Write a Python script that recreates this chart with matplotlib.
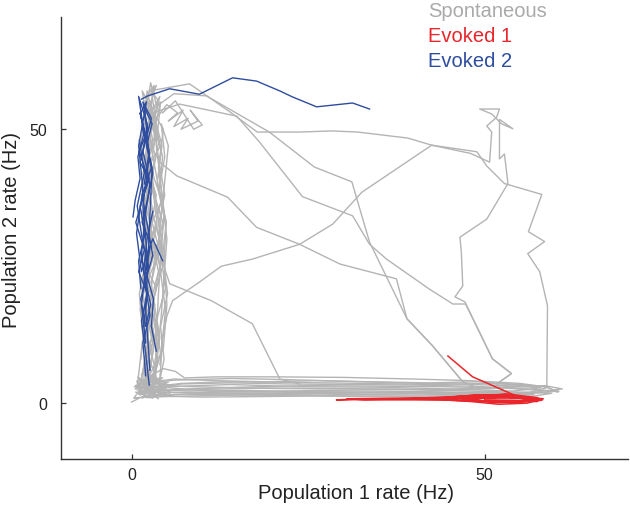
import matplotlib
matplotlib.use("Agg")
import matplotlib.pyplot as plt

C_SPONT = "#b4b4b4"
C_EV1 = "#e8262c"
C_EV2 = "#2e4d9f"

# spontaneous: long excursions between the two states (Hz)
exc1_x = [2.5, 8.2, 13.9, 17.8, 23.8, 28.3, 32.0, 39.1, 42.5, 48.9, 50.3, 52.8, 58.1, 56.2, 58.5, 56.1, 57.8, 58.9, 58.8, 60.3]
exc1_y = [57.0, 58.3, 53.2, 49.5, 49.5, 49.7, 49.5, 48.4, 47.1, 45.9, 43.3, 40.1, 38.1, 31.3, 29.5, 27.3, 24.0, 17.8, 3.0, 2.0]
exc2_x = [4.0, 4.4, 5.0, 5.8, 9.6, 12.7, 17.1, 23.8, 28.5, 32.6, 42.5, 48.0, 50.7, 51.0, 50.3, 51.7, 52.1, 49.3, 51.0,
          52.4, 54.0, 52.1, 52.1, 52.8, 53.3, 50.3, 46.5, 46.7, 46.9, 45.8, 47.2, 51.1, 53.8, 51.7]
exc2_y = [4.4, 11.8, 15.9, 18.7, 22.1, 25.0, 26.3, 29.0, 32.7, 38.5, 47.1, 45.6, 44.0, 49.5, 50.6, 52.2, 53.7, 53.7, 52.8,
          51.0, 50.1, 51.8, 44.6, 45.5, 40.1, 33.6, 30.3, 27.6, 21.4, 19.4, 18.5, 8.1, 5.4, 3.5]
exc3_x = [2.8, 6.0, 10.6, 19.5, 25.9, 31.2, 33.7, 39.0, 42.6, 46.9, 49.3]
exc3_y = [53.5, 56.5, 56.1, 49.5, 43.1, 40.4, 29.4, 15.4, 10.5, 3.9, 2.6]
exc4_x = [3.0, 6.8, 14.9, 18.1, 24.2, 31.3, 33.7, 36.1, 42.2, 45.5, 47.3, 51.1, 53.8, 51.7, 52.8]
exc4_y = [53.0, 54.6, 52.4, 47.7, 37.7, 34.2, 29.0, 26.3, 20.8, 18.1, 18.1, 8.1, 5.4, 3.5, 2.1]
exc5_x = [4.0, 6.4, 13.6, 17.7, 23.8, 29.5, 37.5, 39.0, 42.6, 46.9, 48.5]
exc5_y = [44.0, 41.5, 37.6, 32.1, 29.0, 25.4, 22.7, 15.4, 10.5, 3.9, 3.0]
exc6_x = [4.2, 4.7, 5.4, 11.3, 17.1, 21.0, 23.8]
exc6_y = [30.0, 24.5, 21.8, 18.7, 14.5, 4.4, 3.5]
squig_x = [3.5, 5.0, 6.5, 5.2, 7.3, 6.0, 8.0, 7.0, 9.4, 8.3, 10.0, 8.8, 6.2, 4.4]
squig_y = [52.0, 54.5, 53.0, 51.5, 53.5, 50.5, 52.0, 50.0, 51.5, 53.5, 50.8, 50.0, 55.2, 53.0]

# spontaneous: population-2-up state (vertical bundle)
vert_a_x = [1.2, 2.0, 1.5, 2.6, 1.8, 3.0, 2.2, 1.6, 2.8, 2.0, 3.2, 2.4, 1.9, 3.5, 2.6, 4.0, 3.0, 2.2, 3.4, 2.0]
vert_a_y = [2.5, 9, 16, 22, 29, 35, 41, 46, 52, 56, 58, 51, 44, 38, 31, 25, 18, 12, 6, 3]
vert_b_x = [2.0, 3.1, 2.4, 3.8, 2.9, 4.2, 3.3, 2.5, 3.9, 2.8, 3.6, 2.3, 3.0, 4.4, 3.2, 2.6, 3.7, 2.9]
vert_b_y = [3.5, 10, 17, 24, 30, 37, 43, 49, 55, 57, 50, 45, 39, 33, 26, 19, 11, 4]
vert_c_x = [0.8, 1.6, 1.1, 2.2, 1.4, 2.6, 1.2, 2.0, 1.5, 2.7, 3.3, 2.4, 1.8, 2.9, 1.3, 2.5, 1.9]
vert_c_y = [3, 12, 20, 27, 34, 40, 47, 53, 57, 54, 48, 41, 34, 26, 18, 9, 2]
vert_d_x = [3.0, 4.1, 3.5, 4.8, 4.0, 4.6, 3.6, 4.3, 3.1, 4.5, 3.8, 5.0, 4.2, 3.4]
vert_d_y = [4, 9, 15, 21, 28, 34, 40, 47, 53, 50, 43, 30, 16, 5]
vert_e_x = [2.5, 4.5, 5.0, 4.6, 4.9, 3.9, 4.4, 3.2, 2.7, 3.9, 2.1, 1.6, 2.8, 1.9]
vert_e_y = [5, 10, 18, 26, 33, 39, 45, 51, 55, 48, 36, 20, 12, 4]
vert_f_x = [1.7, 2.4, 1.3, 3.0, 2.1, 3.4, 1.9, 2.7, 3.6, 2.3, 1.5, 2.9, 2.0, 3.1, 1.4]
vert_f_y = [4, 13, 22, 30, 38, 45, 52, 58.5, 54, 47, 39, 31, 22, 13, 5]
vert_g_x = [1.0, 1.8, 2.9, 1.5, 3.3, 2.1, 3.8, 2.6, 1.7, 3.1, 2.3, 4.1, 2.8, 1.9, 3.5, 2.2, 3.0, 1.6, 2.7, 3.9, 2.4,
            2.0, 3.3, 1.8, 2.6]
vert_g_y = [3, 6, 10, 14, 18, 22, 27, 31, 35, 39, 43, 47, 51, 55, 58, 53, 48, 42, 36, 30, 24, 18, 12, 7, 3]
vert_h_x = [2.6, 3.4, 2.2, 3.9, 2.8, 3.5, 2.0, 3.7, 2.9, 4.3, 3.2, 2.5, 3.6, 2.7, 4.0, 3.1, 2.4, 3.3, 4.2, 2.8, 3.5, 2.5]
vert_h_y = [2, 5, 9, 13, 17, 21, 25, 29, 33, 37, 41, 45, 49, 53, 56, 52, 46, 38, 30, 22, 13, 5]
vert_i_x = [1.5, 2.3, 1.2, 2.0, 2.9, 1.7, 2.5, 1.4, 3.1, 2.2, 1.8, 2.7, 3.6, 2.4, 2.0, 1.3]
vert_i_y = [5, 11, 17, 23, 29, 35, 41, 47, 52, 57, 50, 42, 33, 25, 16, 8]
vert_j_x = [3.3, 4.0, 3.1, 4.4, 3.7, 4.7, 3.9, 3.2, 4.1, 3.5, 4.6, 3.8, 3.4]
vert_j_y = [6, 12, 19, 25, 32, 38, 44, 50, 55, 47, 35, 20, 8]
vert_k_x = [3.8, 4.6, 4.1, 5.1, 4.4, 4.9, 3.9, 4.7, 4.2, 5.2, 4.5, 3.7, 4.8, 4.0]
vert_k_y = [3, 8, 14, 20, 27, 33, 39, 45, 51, 47, 38, 28, 17, 7]

# spontaneous: population-1-up state (horizontal bundle) and the corner
hor_a_x = [1.0, 8, 15, 25, 35, 44, 52, 57, 60.5, 55, 46, 36, 26, 16, 8, 2]
hor_a_y = [2.0, 2.6, 2.9, 3.2, 3.1, 3.0, 2.8, 2.4, 2.2, 1.6, 1.9, 2.0, 2.1, 2.3, 2.2, 2.5]
hor_b_x = [1.5, 6, 14, 22, 30, 38, 46, 53, 58, 54, 45, 35, 24, 14, 5, 1.2]
hor_b_y = [3.5, 4.2, 4.5, 4.3, 4.0, 3.7, 3.5, 3.2, 2.8, 2.2, 2.6, 2.9, 3.0, 3.4, 3.0, 1.5]
hor_c_x = [2.0, 4.5, 6.2, 7.5, 12, 20, 30, 40, 48, 55, 59, 56, 50, 42, 33, 23, 13, 6, 2.5]
hor_c_y = [4.5, 6.3, 5.8, 4.6, 4.8, 4.8, 4.7, 4.4, 4.1, 3.6, 2.9, 1.8, 1.4, 1.3, 1.3, 1.4, 1.5, 1.6, 1.0]
hor_d_x = [0.5, 5, 15, 27, 38, 47, 54, 58.5, 61.0, 57, 49, 40, 30, 18, 8, 1.5]
hor_d_y = [1.0, 1.2, 1.5, 1.8, 2.0, 2.4, 2.9, 3.2, 2.6, 2.0, 1.6, 1.5, 1.6, 1.8, 1.7, 1.2]
hor_e_x = [1.8, 7, 13, 22, 33, 43, 50, 56, 52, 44, 34, 25, 15, 6, 2.2]
hor_e_y = [2.8, 3.6, 3.9, 3.8, 3.6, 3.4, 3.6, 3.3, 2.9, 2.5, 2.6, 2.7, 2.8, 3.1, 4.0]
hor_f_x = [1.2, 4, 10, 18, 28, 37, 45, 51, 56, 59.5, 57, 51, 43, 35, 26, 18, 10, 4, 1.0]
hor_f_y = [1.6, 2.2, 2.5, 2.7, 2.6, 2.5, 2.3, 2.1, 2.0, 1.8, 1.3, 1.2, 1.1, 1.2, 1.3, 1.2, 1.1, 1.3, 2.2]
hor_g_x = [2.5, 6, 12, 19, 26, 34, 42, 49, 55, 58.5, 60.5, 56, 48, 40, 31, 22, 14, 7, 2.8]
hor_g_y = [3.8, 4.4, 4.1, 3.9, 4.1, 3.9, 3.7, 3.9, 3.4, 3.0, 2.1, 2.6, 3.1, 3.3, 3.4, 3.5, 3.7, 3.5, 2.4]
hor_h_x = [0.8, 3, 9, 17, 26, 36, 45, 52, 57, 54, 47, 38, 29, 20, 11, 3.5]
hor_h_y = [2.4, 2.0, 1.9, 2.1, 2.3, 2.2, 2.0, 1.9, 1.6, 1.5, 1.7, 1.8, 1.9, 2.0, 2.2, 3.0]
corner_x = [0.0, 1.2, 0.3, 2.5, 1.0, 4.0, 1.8, 5.5, 2.2, 0.8, 3.6, 1.5, 4.8, 0.5, 3.0, 5.8, 2.0, 0.9, 4.2, 1.4, 3.4, 0.6]
corner_y = [0.2, 1.0, 0.9, 4.8, 1.6, 3.8, 5.3, 2.0, 1.0, 3.6, 4.4, 0.9, 3.2, 2.6, 5.0, 1.2, 3.0, 4.6, 1.4, 2.2, 1.8, 3.2]
corner2_x = [0.6, 2.8, 1.2, 4.5, 0.4, 3.2, 5.0, 1.6, 3.8, 0.9, 2.4, 5.2, 1.1, 3.0, 0.7, 4.4, 2.0]
corner2_y = [2.0, 1.2, 4.2, 2.4, 3.0, 5.4, 1.4, 2.8, 0.8, 4.8, 3.4, 3.8, 1.8, 0.9, 4.0, 4.6, 2.6]

# evoked 1
ev1_x = [44.8, 48.3, 54.5, 57.8, 52, 45, 38, 31, 29.0, 35, 42, 49, 55, 58.2, 54, 47, 40, 33, 30.5, 37, 44, 50, 56,
         57.5, 51, 46, 43, 48, 53, 57.9, 55, 50, 45, 49, 54, 58.0, 52, 47]
ev1_y = [8.6, 4.8, 1.3, 0.8, 1.0, 0.9, 0.8, 0.7, 0.6, 0.7, 0.8, 0.9, 1.1, 0.6, 0.4, 0.5, 0.6, 0.6, 0.8, 0.9, 1.0, 1.3, 0.9,
         0.3, 0.2, 0.5, 0.9, 1.4, 1.6, 0.7, 0.2, 0.4, 1.1, 1.5, 1.2, 0.5, 0.1, 0.8]
ev1_b_x = [40, 46, 51, 55, 58.3, 56, 52, 48, 44, 49, 53, 57.5, 55, 50]
ev1_b_y = [0.9, 1.2, 1.5, 1.2, 0.8, 0.0, -0.2, 0.3, 0.6, 1.0, 1.7, 1.0, 0.5, 0.6]

# evoked 2
ev2_top_x = [1.4, 2.3, 5.4, 9.6, 14.3, 17.7, 21.0, 22.8, 26.2, 31.3, 33.7]
ev2_top_y = [55.5, 56.1, 57.4, 56.4, 59.4, 58.8, 57.0, 55.9, 54.1, 54.8, 53.7]
ev2_a_x = [2.5, 2.0, 1.4, 2.2, 1.0, 1.8, 0.6, 1.5, 2.4, 1.2, 2.0, 2.8, 1.6, 2.3, 1.1, 2.6, 1.9, 1.4, 2.2, 1.7]
ev2_a_y = [3.3, 9, 15, 20, 24, 28, 33, 37, 41, 44, 48, 52, 55, 50, 46, 40, 34, 27, 20, 14]
ev2_b_x = [3.5, 2.8, 3.1, 2.0, 2.7, 1.5, 2.4, 3.0, 2.1, 2.9, 1.8, 2.5, 1.6, 2.2, 1.4, 2.0]
ev2_b_y = [9.5, 14, 19, 24, 29, 33, 38, 42, 47, 51, 54, 45, 36, 27, 18, 11]
ev2_c_x = [0.2, 0.5, 1.2, 0.9, 1.7, 1.3, 2.1, 1.0, 1.6, 0.7, 1.4, 2.4, 3.0, 4.4]
ev2_c_y = [34, 37, 41, 45, 49, 53, 55, 47, 39, 31, 24, 28, 30, 26]
ev2_d_x = [1.3, 1.0, 1.9, 1.2, 2.5, 1.6, 2.2, 1.0, 1.8, 2.9, 2.0, 2.6]
ev2_d_y = [21, 26, 31, 36, 41, 46, 51, 56, 49, 43, 17, 6]
ev2_e_x = [2.0, 1.6, 2.6, 1.9, 3.0, 2.3, 1.5, 2.8, 2.1, 1.2, 2.5, 1.8]
ev2_e_y = [5, 11, 16, 22, 27, 32, 38, 43, 48, 53, 46, 40]
ev2_f_x = [1.1, 1.8, 0.8, 1.5, 2.4, 1.3, 2.0, 2.7, 1.7, 2.2, 3.0]
ev2_f_y = [48, 42, 36, 30, 25, 19, 14, 18, 24, 30, 35]

spont = [(exc1_x, exc1_y), (exc2_x, exc2_y), (exc3_x, exc3_y), (exc4_x, exc4_y),
         (exc5_x, exc5_y), (exc6_x, exc6_y), (squig_x, squig_y),
         (vert_a_x, vert_a_y), (vert_b_x, vert_b_y), (vert_c_x, vert_c_y),
         (vert_d_x, vert_d_y), (vert_e_x, vert_e_y), (vert_f_x, vert_f_y),
         (vert_g_x, vert_g_y), (vert_h_x, vert_h_y), (vert_i_x, vert_i_y),
         (vert_j_x, vert_j_y), (vert_k_x, vert_k_y),
         (hor_a_x, hor_a_y), (hor_b_x, hor_b_y), (hor_c_x, hor_c_y),
         (hor_d_x, hor_d_y), (hor_e_x, hor_e_y), (hor_f_x, hor_f_y),
         (hor_g_x, hor_g_y), (hor_h_x, hor_h_y),
         (corner_x, corner_y), (corner2_x, corner2_y)]
evoked1 = [(ev1_x, ev1_y), (ev1_b_x, ev1_b_y)]
evoked2 = [(ev2_top_x, ev2_top_y), (ev2_a_x, ev2_a_y), (ev2_b_x, ev2_b_y),
           (ev2_c_x, ev2_c_y), (ev2_d_x, ev2_d_y), (ev2_e_x, ev2_e_y), (ev2_f_x, ev2_f_y)]

plt.rcParams["font.family"] = ["Liberation Sans", "DejaVu Sans"]
fig = plt.figure(figsize=(6.3, 5.06), dpi=100)
ax = fig.add_axes([0.0968, 0.0909, 0.9, 0.8735])

for xs, ys in spont:
    ax.plot(xs, ys, color=C_SPONT, lw=1.0)
for xs, ys in evoked1:
    ax.plot(xs, ys, color=C_EV1, lw=1.1)
for xs, ys in evoked2:
    ax.plot(xs, ys, color=C_EV2, lw=1.0)

ax.set_xlim(-10, 70.3)
ax.set_ylim(-10.2, 70.5)
ax.set_xticks([0, 50])
ax.set_yticks([0, 50])
for s in ["top", "right"]:
    ax.spines[s].set_visible(False)
for s in ["left", "bottom"]:
    ax.spines[s].set_color("#333333")
    ax.spines[s].set_linewidth(1.0)
ax.tick_params(direction="in", length=3.5, width=0.9, color="#333333", labelsize=11.5, labelcolor="#222222")
ax.tick_params(axis="x", pad=6)
ax.tick_params(axis="y", pad=10)

ax.set_xlabel("Population 1 rate (Hz)", fontsize=14.5, color="#222222")
ax.set_ylabel("Population 2 rate (Hz)", fontsize=14.5, color="#222222")
ax.xaxis.set_label_coords(0.52, -0.055)
ax.yaxis.set_label_coords(-0.07, 0.52)

fig.text(428 / 630, 1 - 17 / 506, "Spontaneous", color="#aaaaaa", fontsize=14.5, va="baseline")
fig.text(428 / 630, 1 - 42 / 506, "Evoked 1", color=C_EV1, fontsize=14.5, va="baseline")
fig.text(428 / 630, 1 - 67 / 506, "Evoked 2", color=C_EV2, fontsize=14.5, va="baseline")

fig.savefig("out.png", dpi=100)
